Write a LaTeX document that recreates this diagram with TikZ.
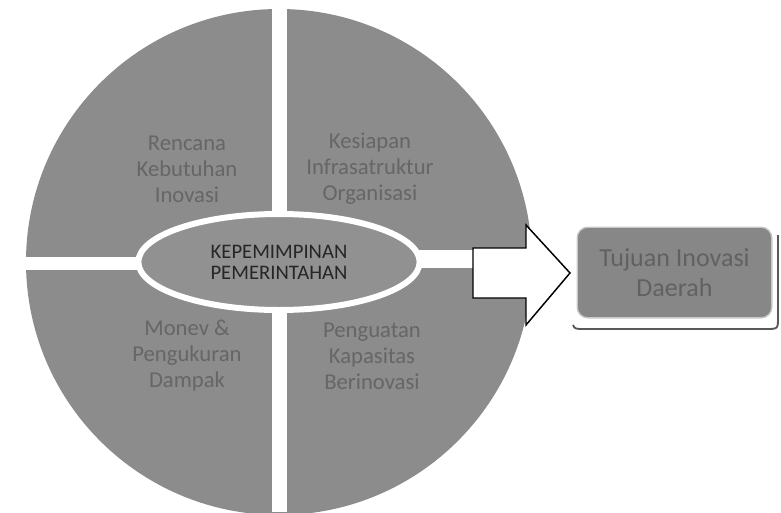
\documentclass[tikz,border=0pt]{standalone}
\usepackage{fontspec}
\setmainfont{Carlito}
\usetikzlibrary{shapes.geometric}
\begin{document}
\begin{tikzpicture}[x=0.75pt, y=0.75pt, thick,
	quad/.style = {text=black!60, font=\fontsize{17}{19.5}\selectfont, align=center},
	lead/.style = {ellipse, draw=white, line width=4.5pt, fill=black!43, text=black!85, font=\fontsize{15.5}{15.75}\selectfont, align=center, minimum width=211pt, minimum height=72pt, inner sep=0pt},
	goal/.style = {draw=black!22, line width=1pt, fill=black!47, rounded corners=8pt, text=black!62, font=\fontsize{19.5}{22.5}\selectfont, align=center, minimum width=146pt, minimum height=68pt}]
		\useasboundingbox (0,0) rectangle (781,512);
		
		\fill[black!45] (279,250) circle (253);
		\fill[white] (272,0) rectangle (287,512);
		\fill[white] (0,242) rectangle (279,255);
		\fill[white] (279,244) rectangle (540,262);
		
		\node[quad] (1) at (187,343) {Rencana\\Kebutuhan\\Inovasi};
		\node[quad] (2) at (370,343) {Kesiapan\\Infrasatruktur\\Organisasi};
		\node[quad] (3) at (187,156) {Monev \&\\Pengukuran\\Dampak};
		\node[quad] (4) at (372,156) {Penguatan\\Kapasitas\\Berinovasi};
		
		\node[lead] (k) at (279,250) {KEPEMIMPINAN\\PEMERINTAHAN};
		
		\draw[fill=white, line width=1.1pt, line join=miter] (473,264) -- (526,264) -- (526,287) -- (570,239) -- (526,187) -- (526,214) -- (473,214) -- cycle;
		
		\draw[black!65, line width=1.4pt] (573,187) .. controls (575,183) .. (585,183) -- (766,183) .. controls (778,183) .. (778,195) -- (778,277);
		\node[goal] (t) at (674.5,239.5) {Tujuan Inovasi\\Daerah};
		
	\end{tikzpicture}
\end{document}
